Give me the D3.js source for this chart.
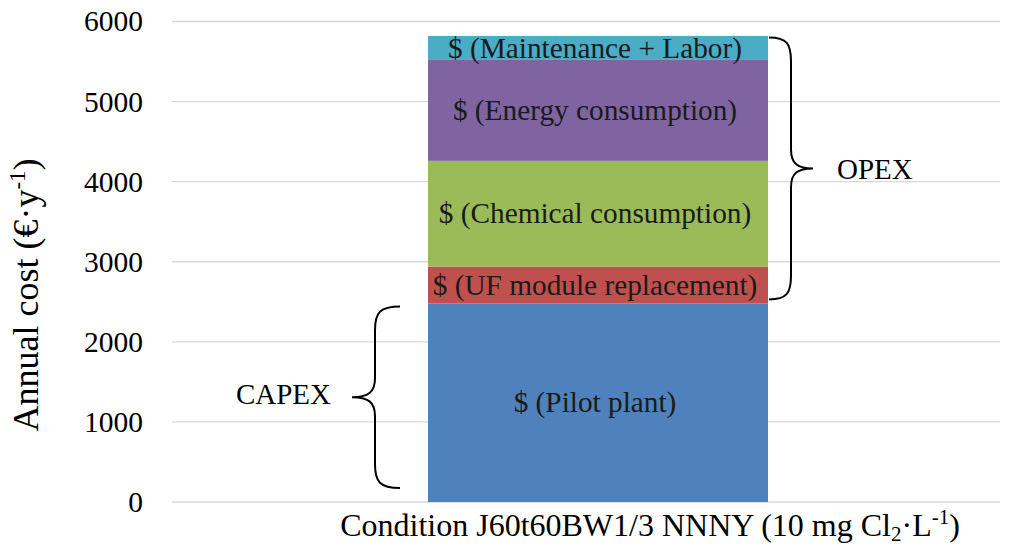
<!DOCTYPE html>
<html>
<head>
<meta charset="utf-8">
<script src="https://cdn.jsdelivr.net/npm/d3@7/dist/d3.min.js"></script>
<style>
  html, body { margin: 0; padding: 0; background: #fff; }
  svg, svg text { font-family: "Liberation Serif", "Times New Roman", serif !important; }
  svg { display: block; }
</style>
</head>
<body>
<svg id="chart" width="1013" height="546"></svg>
<script>
// Annual cost breakdown of the pilot plant (stacked, bottom to top)
const categories = ["J60t60BW1/3 NNNY"];
const components = ["Pilot plant", "UF module replacement", "Chemical consumption", "Energy consumption", "Maintenance + Labor"];
const values = [2480, 460, 1320, 1260, 300];
const colors = ["#4F81BD", "#C0504D", "#9BBB59", "#8064A2", "#4BACC6"];
const yTicks = [0, 1000, 2000, 3000, 4000, 5000, 6000];
const capexParts = ["Pilot plant"];
const opexParts = ["UF module replacement", "Chemical consumption", "Energy consumption", "Maintenance + Labor"];

const SERIF = "'Liberation Serif', 'Times New Roman', serif";
const svg = d3.select("#chart");
const plot = { left: 172, right: 1000, top: 21.5, bottom: 502 };

const y = d3.scaleLinear().domain([0, 6000]).range([plot.bottom, plot.top]);
const x = d3.scaleBand().domain(categories).range([428, 768]).padding(0);

// horizontal gridlines
svg.append("g")
  .selectAll("line")
  .data(yTicks)
  .join("line")
  .attr("x1", plot.left).attr("x2", plot.right)
  .attr("y1", d => y(d)).attr("y2", d => y(d))
  .attr("stroke", "#d9d9d9").attr("stroke-width", 1.4);

// y axis labels
const yAxis = svg.append("g")
  .attr("transform", `translate(${plot.left},0)`)
  .call(d3.axisLeft(y).tickValues(yTicks).tickSize(0).tickPadding(29).tickFormat(d3.format("d")));
yAxis.attr("font-family", null).attr("font-size", null);
yAxis.select(".domain").remove();
yAxis.selectAll("text")
  .style("font-family", SERIF)
  .style("font-size", "29.5px")
  .attr("fill", "#000");

// stacked segments
const ends = d3.cumsum(values);
const segs = components.map((name, i) => ({
  name, value: values[i], color: colors[i],
  y0: i === 0 ? 0 : ends[i - 1], y1: ends[i]
}));

const cat = categories[0];
svg.append("g")
  .selectAll("rect")
  .data(segs)
  .join("rect")
  .attr("x", x(cat))
  .attr("width", x.bandwidth())
  .attr("y", d => y(d.y1))
  .attr("height", d => y(d.y0) - y(d.y1))
  .attr("fill", d => d.color);

svg.append("g")
  .selectAll("text")
  .data(segs)
  .join("text")
  .attr("x", x(cat) + x.bandwidth() / 2 - 3)
  .attr("y", d => y((d.y0 + d.y1) / 2))
  .attr("dy", "0.33em")
  .attr("text-anchor", "middle")
  .style("font-family", SERIF)
  .style("font-size", "29.3px")
  .attr("fill", "#1a1a1a")
  .text(d => `$ (${d.name})`);

// curly brace from (xEnd,y0) to (xEnd,y1); dx = offset of the spine, tipDx = offset of the tip
function brace(xEnd, dx, tipDx, y0, y1) {
  const xl = xEnd + dx, xt = xEnd + tipDx, ym = (y0 + y1) / 2;
  const r = 24, r2 = 19;
  return `M${xEnd},${y0}` +
    `C${xEnd + dx * 0.8},${y0} ${xl},${y0 + r * 0.25} ${xl},${y0 + r}` +
    `L${xl},${ym - r2}` +
    `C${xl},${ym - r2 * 0.25} ${xl + (xt - xl) * 0.3},${ym} ${xt},${ym}` +
    `C${xl + (xt - xl) * 0.3},${ym} ${xl},${ym + r2 * 0.25} ${xl},${ym + r2}` +
    `L${xl},${y1 - r}` +
    `C${xl},${y1 - r * 0.25} ${xEnd + dx * 0.8},${y1} ${xEnd},${y1}`;
}

const capexTop = d3.sum(capexParts.map(n => values[components.indexOf(n)]));
const opexTop = capexTop + d3.sum(opexParts.map(n => values[components.indexOf(n)]));

const barRight = x(cat) + x.bandwidth();
const barLeft = x(cat);

// OPEX brace on the right
const oy0 = y(opexTop) + 1.5, oy1 = y(capexTop) - 4;
svg.append("path")
  .attr("d", brace(barRight + 1, 22, 44, oy0, oy1))
  .attr("fill", "none").attr("stroke", "#000").attr("stroke-width", 2);
svg.append("text")
  .attr("x", barRight + 69).attr("y", (oy0 + oy1) / 2).attr("dy", "0.36em")
  .style("font-family", SERIF).style("font-size", "29px")
  .attr("fill", "#000").text("OPEX");

// CAPEX brace on the left
const cy0 = y(capexTop) + 3, cy1 = y(0) - 14;
svg.append("path")
  .attr("d", brace(barLeft - 28, -25, -48, cy0, cy1))
  .attr("fill", "none").attr("stroke", "#000").attr("stroke-width", 2);
svg.append("text")
  .attr("x", barLeft - 97).attr("y", (cy0 + cy1) / 2).attr("dy", "0.25em")
  .attr("text-anchor", "end")
  .style("font-family", SERIF).style("font-size", "29px")
  .attr("fill", "#000").text("CAPEX");

// y axis title
const yt = svg.append("text")
  .attr("transform", "translate(38,295) rotate(-90)")
  .attr("text-anchor", "middle")
  .style("font-family", SERIF).style("font-size", "36px")
  .attr("fill", "#000");
yt.append("tspan").text("Annual cost (€·y");
yt.append("tspan").style("font-size", "23px").attr("dy", -13).text("-1");
yt.append("tspan").attr("dy", 13).text(")");

// x axis title
const xt = svg.append("text")
  .attr("x", 650).attr("y", 536)
  .attr("text-anchor", "middle")
  .style("font-family", SERIF).style("font-size", "32px")
  .attr("fill", "#000");
xt.append("tspan").text(`Condition ${cat} (10 mg Cl`);
xt.append("tspan").style("font-size", "21px").attr("dy", 5).text("2");
xt.append("tspan").attr("dy", -5).text("·L");
xt.append("tspan").style("font-size", "21px").attr("dy", -12).text("-1");
xt.append("tspan").attr("dy", 12).text(")");
</script>
</body>
</html>
